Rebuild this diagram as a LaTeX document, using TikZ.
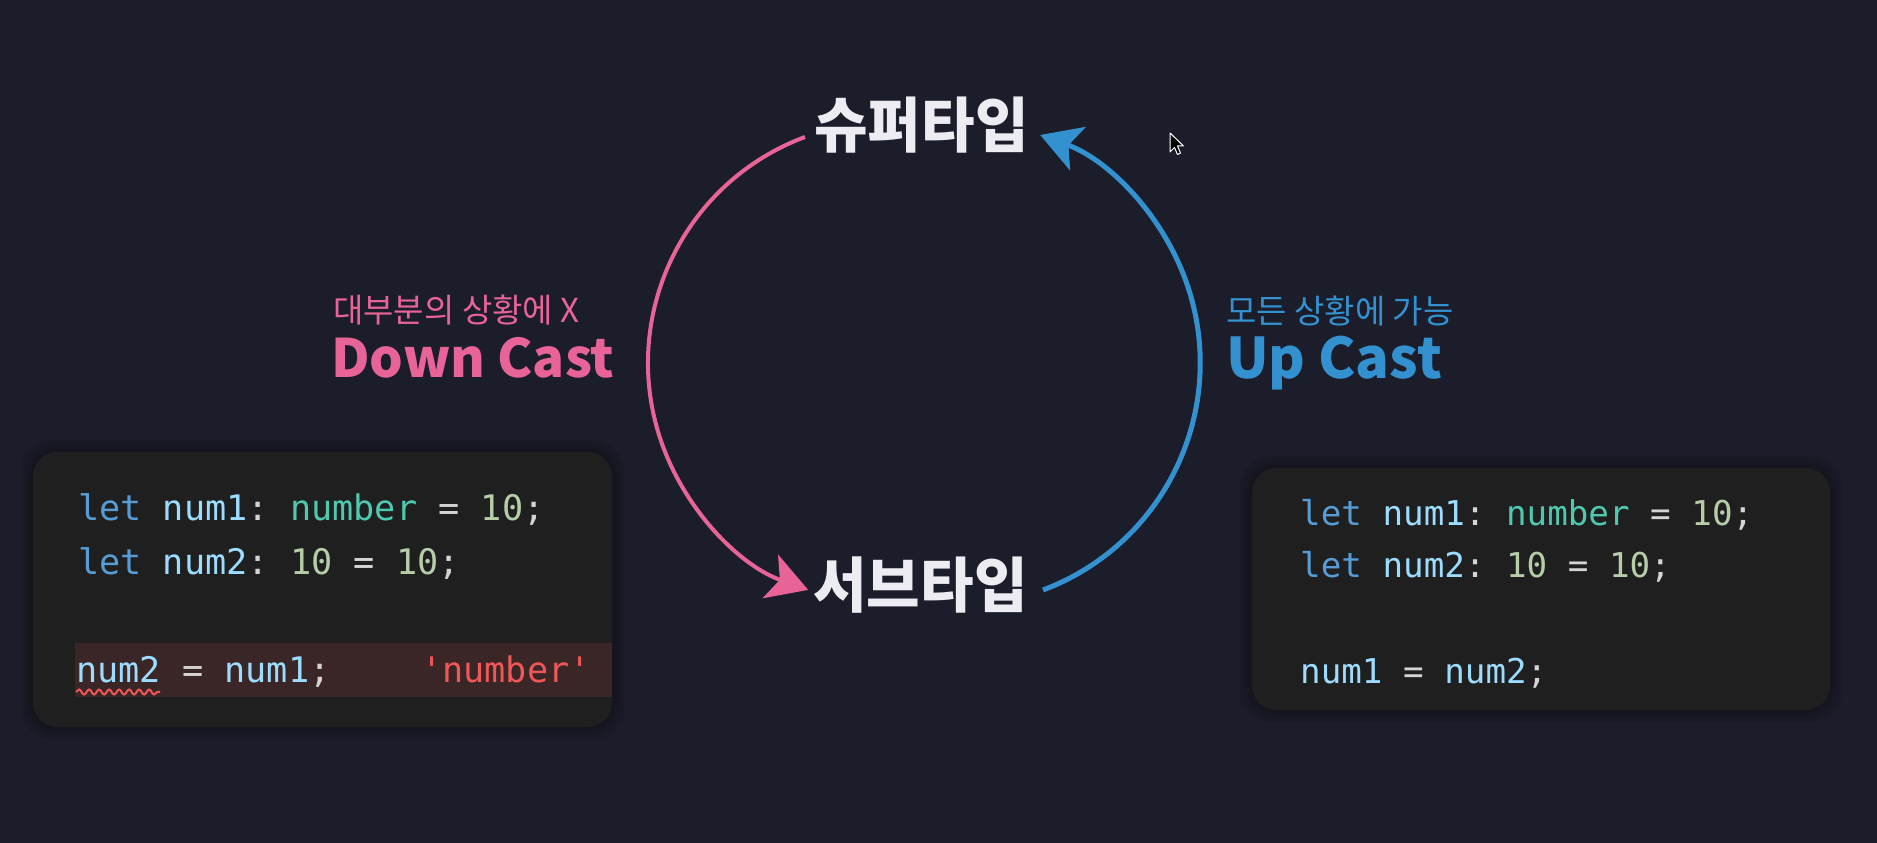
\documentclass[tikz,border=0pt]{standalone}
\usepackage{fontspec}
\usepackage{graphicx}
\usetikzlibrary{arrows.meta,decorations.pathmorphing}
\newfontfamily\kr{Noto Sans CJK KR}
\newfontfamily\mono{DejaVu Sans Mono}
\definecolor{bg}{RGB}{28,29,43}
\definecolor{codebg}{RGB}{31,31,31}
\definecolor{errbg}{RGB}{58,38,38}
\definecolor{titlec}{RGB}{236,236,242}
\definecolor{pinkc}{RGB}{232,100,152}
\definecolor{bluec}{RGB}{52,145,208}
\definecolor{kw}{RGB}{86,156,214}
\definecolor{idc}{RGB}{156,220,254}
\definecolor{typec}{RGB}{78,201,176}
\definecolor{numc}{RGB}{181,206,168}
\definecolor{punc}{RGB}{212,212,212}
\definecolor{strc}{RGB}{240,88,88}
\tikzset{
  title/.style={inner sep=0pt, text=titlec, font=\kr\bfseries\fontsize{60}{60}\selectfont},
  smalllab/.style={inner sep=0pt, anchor=west, font=\kr\fontsize{33}{33}\selectfont},
  biglab/.style={inner sep=0pt, anchor=base west, font=\kr\bfseries\fontsize{#1}{#1}\selectfont},
  codebox/.style={fill=codebg, rounded corners=24pt},
  halo/.style={fill=black, opacity=0.07, rounded corners=30pt},
  codeline/.style={inner sep=0pt, anchor=base west, font=\mono\frenchspacing\fontsize{#1}{#1}\selectfont},
  arcline/.style={line width=#1, -{Stealth[length=40pt, width=46pt, inset=10pt]}},
}
\newcommand{\ckw}[1]{\textcolor{kw}{#1}}
\newcommand{\cid}[1]{\textcolor{idc}{#1}}
\newcommand{\cty}[1]{\textcolor{typec}{#1}}
\newcommand{\cnum}[1]{\textcolor{numc}{#1}}
\newcommand{\cpun}[1]{\textcolor{punc}{#1}}
\begin{document}
\begin{tikzpicture}[x=1pt,y=1pt]
\fill[bg] (0,0) rectangle (1877,843);
\useasboundingbox (0,0) rectangle (1877,843);

% titles
\node[title] (super) at (921.5,718) {\scalebox{0.97}[1]{슈퍼타입}};
\node[title] (sub) at (920.5,258) {\scalebox{0.97}[1]{서브타입}};

% arcs
\coordinate (ps) at (805,706);
\coordinate (bs) at (1043,253);
\draw[arcline=4pt, color=pinkc] (ps) arc[start angle=110.4, end angle=250.4, radius=241];
\draw[arcline=5pt, color=bluec] (bs) arc[start angle=-69.4, end angle=70.1, radius=242.5];

% labels
\node[smalllab, text=pinkc] (dlab) at (333,533) {대부분의 상황에 X};
\node[biglab=53, text=pinkc] (down) at (331,465) {Down Cast};
\node[smalllab, text=bluec] (ulab) at (1226,532) {모든 상황에 가능};
\node[biglab=56, text=bluec] (up) at (1226,464) {Up Cast};

% left code box
\foreach \d in {3,6,9,12}{\fill[halo] (33-\d,116-\d) rectangle (612+\d,391+\d);}
\fill[codebox] (33,116) rectangle (612,391);
\fill[errbg] (75,146) rectangle (612,200);
\node[codeline=35.2] (l1) at (78,322) {\ckw{let} \cid{num1}\cpun{:} \cty{number} \cpun{=} \cnum{10}\cpun{;}};
\node[codeline=35.2] (l2) at (78,268) {\ckw{let} \cid{num2}\cpun{:} \cnum{10} \cpun{=} \cnum{10}\cpun{;}};
\node[codeline=35.2] (l3) at (76,160) {\cid{num2} \cpun{=} \cid{num1}\cpun{;}};
\node[codeline=35.2, text=strc] (err) at (421,160) {'number'};
\draw[strc, line width=2pt, decorate, decoration={snake, amplitude=2.5pt, segment length=10pt}] (76,151) -- (160,151);

% right code box
\foreach \d in {3,6,9,12}{\fill[halo] (1252-\d,133-\d) rectangle (1830+\d,375+\d);}
\fill[codebox] (1252,133) rectangle (1830,375);
\node[codeline=34.2] (r1) at (1300,317) {\ckw{let} \cid{num1}\cpun{:} \cty{number} \cpun{=} \cnum{10}\cpun{;}};
\node[codeline=34.2] (r2) at (1300,265) {\ckw{let} \cid{num2}\cpun{:} \cnum{10} \cpun{=} \cnum{10}\cpun{;}};
\node[codeline=34.2] (r3) at (1300,159) {\cid{num1} \cpun{=} \cid{num2}\cpun{;}};

% mouse cursor
\filldraw[fill=black, draw=white, line width=1pt, line join=round]
  (1170,710) -- (1170,691) -- (1174.5,695.5) -- (1177.5,688.5) -- (1180.5,690) -- (1177.5,697) -- (1183.5,697) -- cycle;
\end{tikzpicture}
\end{document}
